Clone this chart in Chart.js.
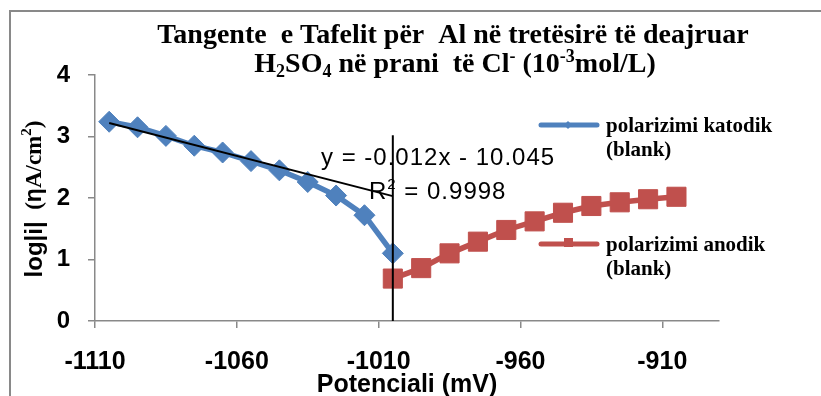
<!DOCTYPE html>
<html>
<head>
<meta charset="utf-8">
<script src="https://cdn.jsdelivr.net/npm/chart.js@4.4.0/dist/chart.umd.min.js"></script>
<style>
  html, body { margin: 0; padding: 0; background: #fff; }
  canvas { display: block; }
</style>
</head>
<body>
<canvas id="chart" width="821" height="396"></canvas>
<script>
// values: potential (mV) vs log|i|
var katodikX = [-1105, -1095, -1085, -1075, -1065, -1055, -1045, -1035, -1025, -1015, -1005];
var katodikY = [3.24, 3.15, 3.01, 2.85, 2.74, 2.60, 2.45, 2.26, 2.04, 1.72, 1.10];
var anodikX = [-1005, -995, -985, -975, -965, -955, -945, -935, -925, -915, -905];
var anodikY = [0.69, 0.86, 1.10, 1.29, 1.48, 1.62, 1.76, 1.87, 1.93, 1.98, 2.02];
// Tafel tangent and the vertical marker at the corrosion potential
var trendX = [-1105, -1005];
var trendY = [3.22, 2.03];
var markerX = [-1005, -1005];
var markerY = [0, 3.02];

var xTicks = [-1110, -1060, -1010, -960, -910];
var xTickLabels = ['-1110', '-1060', '-1010', '-960', '-910'];
var yTicks = [0, 1, 2, 3, 4];
var yTickLabels = ['0', '1', '2', '3', '4'];

var katodikName = ['polarizimi katodik', '(blank)'];
var anodikName = ['polarizimi anodik', '(blank)'];

var blue = '#4F81BD';
var red = '#C0504D';
var axisColor = '#898989';
var sans = "'Liberation Sans', Arial, sans-serif";
var serif = "'Liberation Serif', 'Times New Roman', serif";

function points(xs, ys) {
  return xs.map(function (x, i) { return { x: x, y: ys[i] }; });
}

// draws a run of text pieces with their own font / vertical shift
function drawRich(ctx, parts, x, y, align) {
  var total = 0;
  parts.forEach(function (p) {
    ctx.font = p.f;
    p.w = ctx.measureText(p.t).width;
    total += p.w;
  });
  var cx = align === 'center' ? x - total / 2 : x;
  parts.forEach(function (p) {
    ctx.font = p.f;
    ctx.fillText(p.t, cx, y + (p.dy || 0));
    cx += p.w;
  });
}

var frame = {
  id: 'frame',
  beforeDraw: function (chart) {
    var ctx = chart.ctx;
    ctx.save();
    ctx.fillStyle = '#fff';
    ctx.fillRect(0, 0, chart.width, chart.height);
    ctx.strokeStyle = axisColor;
    ctx.lineWidth = 2;
    ctx.strokeRect(10, 11, 900, 500);
    ctx.restore();
  },
  beforeDatasetsDraw: function (chart) {
    var ctx = chart.ctx;
    ctx.save();
    ctx.fillStyle = '#000';
    ctx.textBaseline = 'middle';
    ctx.letterSpacing = '1px';
    drawRich(ctx, [{ t: 'y = -0.012x - 10.045', f: '24px ' + sans }], 321, 158, 'left');
    drawRich(ctx, [
      { t: 'R', f: '24px ' + sans },
      { t: '2', f: '15px ' + sans, dy: -7 },
      { t: ' = 0.9998', f: '24px ' + sans }
    ], 369, 192, 'left');
    ctx.restore();
  },
  afterDraw: function (chart) {
    var ctx = chart.ctx;
    ctx.save();
    ctx.fillStyle = '#000';
    ctx.textBaseline = 'alphabetic';

    // title
    var tf = 'bold 28px ' + serif;
    var tsub = 'bold 18px ' + serif;
    drawRich(ctx, [{ t: 'Tangente  e Tafelit për  Al në tretësirë të deajruar', f: tf }], 453, 43, 'center');
    drawRich(ctx, [
      { t: 'H', f: tf }, { t: '2', f: tsub, dy: 5 }, { t: 'SO', f: tf }, { t: '4', f: tsub, dy: 5 },
      { t: ' në prani  të Cl', f: tf }, { t: '-', f: tsub, dy: -10 },
      { t: ' (10', f: tf }, { t: '-3', f: tsub, dy: -10 }, { t: 'mol/L)', f: tf }
    ], 455, 72, 'center');

    // axis titles
    ctx.textBaseline = 'middle';
    drawRich(ctx, [{ t: 'Potenciali (mV)', f: 'bold 25px ' + sans }], 407, 385, 'center');
    ctx.translate(35, 199);
    ctx.rotate(-Math.PI / 2);
    drawRich(ctx, [
      { t: 'log|i|', f: 'bold 24px ' + sans },
      { t: '  (', f: 'bold 23px ' + serif },
      { t: 'η', f: 'bold 23px ' + sans },
      { t: 'A/cm', f: 'bold 23px ' + serif },
      { t: '2', f: 'bold 15px ' + serif, dy: -8 },
      { t: ')', f: 'bold 23px ' + serif }
    ], 0, 0, 'center');
    ctx.restore();

    // legend
    ctx.save();
    var items = [
      { name: katodikName, color: blue, y: 125, style: 'diamond' },
      { name: anodikName, color: red, y: 244, style: 'square' }
    ];
    items.forEach(function (it) {
      ctx.strokeStyle = it.color;
      ctx.fillStyle = it.color;
      ctx.lineWidth = 5;
      ctx.lineCap = 'round';
      ctx.beginPath();
      ctx.moveTo(541, it.y);
      ctx.lineTo(597, it.y);
      ctx.stroke();
      if (it.style === 'diamond') {
        ctx.beginPath();
        ctx.moveTo(568, it.y - 4);
        ctx.lineTo(572, it.y);
        ctx.lineTo(568, it.y + 4);
        ctx.lineTo(564, it.y);
        ctx.closePath();
        ctx.fill();
      } else {
        ctx.fillRect(564, it.y - 6, 9, 9);
      }
      ctx.fillStyle = '#000';
      ctx.font = 'bold 21px ' + serif;
      ctx.textBaseline = 'middle';
      ctx.fillText(it.name[0], 606, it.y + 2);
      ctx.fillText(it.name[1], 606, it.y + 26);
    });
    ctx.restore();
  }
};

new Chart(document.getElementById('chart'), {
  type: 'scatter',
  data: {
    datasets: [
      {
        label: 'trend',
        data: points(trendX, trendY),
        showLine: true,
        borderColor: '#000',
        borderWidth: 2,
        pointRadius: 0,
        order: 0
      },
      {
        label: 'marker',
        data: points(markerX, markerY),
        showLine: true,
        borderColor: '#000',
        borderWidth: 2,
        pointRadius: 0,
        order: 0
      },
      {
        label: katodikName.join(' '),
        data: points(katodikX, katodikY),
        showLine: true,
        borderColor: blue,
        backgroundColor: blue,
        borderWidth: 5.5,
        pointStyle: 'rectRot',
        pointRadius: 10.5,
        pointBorderWidth: 1,
        order: 2
      },
      {
        label: anodikName.join(' '),
        data: points(anodikX, anodikY),
        showLine: true,
        borderColor: red,
        backgroundColor: red,
        borderWidth: 5.5,
        pointStyle: 'rect',
        pointRadius: 13.5,
        pointBorderWidth: 1,
        order: 1
      }
    ]
  },
  options: {
    responsive: false,
    animation: false,
    devicePixelRatio: 1,
    layout: { padding: { top: 75, right: 102, left: 0, bottom: 0 } },
    plugins: {
      legend: { display: false },
      tooltip: { enabled: false },
      title: { display: false }
    },
    scales: {
      x: {
        type: 'linear',
        min: -1110,
        max: -890,
        afterBuildTicks: function (s) { s.ticks = xTicks.map(function (v) { return { value: v }; }); },
        afterFit: function (s) { s.height = 75; },
        grid: { drawOnChartArea: false, tickLength: 7, color: axisColor, lineWidth: 1.5 },
        border: { color: axisColor, width: 1.5 },
        ticks: {
          color: '#000',
          font: { family: sans, size: 25, weight: 'bold' },
          padding: 19,
          maxRotation: 0,
          autoSkip: false,
          callback: function (v, i) { return xTickLabels[i]; }
        }
      },
      y: {
        type: 'linear',
        min: 0,
        max: 4,
        afterBuildTicks: function (s) { s.ticks = yTicks.map(function (v) { return { value: v }; }); },
        afterFit: function (s) { s.width = 95; },
        grid: { drawOnChartArea: false, tickLength: 7, color: axisColor, lineWidth: 1.5 },
        border: { color: axisColor, width: 1.5 },
        ticks: {
          color: '#000',
          font: { family: sans, size: 24, weight: 'bold' },
          padding: 18,
          callback: function (v, i) { return yTickLabels[i]; }
        }
      }
    }
  },
  plugins: [frame]
});
</script>
</body>
</html>
